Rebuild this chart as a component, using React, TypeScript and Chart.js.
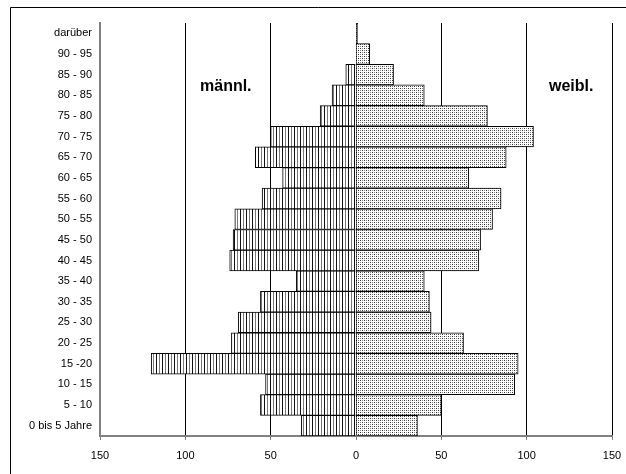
import React, { useEffect, useRef } from "react";
import { Chart, registerables } from "chart.js";

Chart.register(...registerables);

const categories = [
  "0 bis 5 Jahre", "5 - 10", "10 - 15", "15 -20", "20 - 25", "25 - 30", "30 - 35",
  "35 - 40", "40 - 45", "45 - 50", "50 - 55", "55 - 60", "60 - 65", "65 - 70",
  "70 - 75", "75 - 80", "80 - 85", "85 - 90", "90 - 95", "darüber",
];
const male = [32, 56, 53, 120, 73, 69, 56, 35, 74, 72, 71, 55, 43, 59, 50, 21, 14, 6, 0, 0];
const female = [36, 50, 93, 95, 63, 44, 43, 40, 72, 73, 80, 85, 66, 88, 104, 77, 40, 22, 8, 1];
const xTicks = [-150, -100, -50, 0, 50, 100, 150];

const FONT = "Arial, 'Liberation Sans', sans-serif";

function makePattern(kind: "stripes" | "dots"): CanvasPattern | string {
  const c = document.createElement("canvas");
  const ctx = c.getContext("2d");
  if (!ctx) return "#ccc";
  if (kind === "stripes") {
    c.width = 6; c.height = 1;
    ctx.fillStyle = "#fff"; ctx.fillRect(0, 0, 6, 1);
    ctx.fillStyle = "#111"; ctx.fillRect(0, 0, 1, 1);
    ctx.fillStyle = "#7a7a7a"; ctx.fillRect(3, 0, 1, 1);
  } else {
    c.width = 4; c.height = 4;
    ctx.fillStyle = "#fff"; ctx.fillRect(0, 0, 4, 4);
    ctx.fillStyle = "#333"; ctx.fillRect(0, 0, 1, 1);
    ctx.fillStyle = "#888"; ctx.fillRect(2, 0, 1, 1);
    ctx.fillStyle = "#888"; ctx.fillRect(0, 2, 1, 1);
    ctx.fillStyle = "#333"; ctx.fillRect(2, 2, 1, 1);
  }
  const p = ctx.createPattern(c, "repeat");
  return p || "#ccc";
}

const decorPlugin = {
  id: "decor",
  afterDraw(chart: any) {
    const ctx = chart.ctx as CanvasRenderingContext2D;
    ctx.save();
    ctx.strokeStyle = "#000";
    ctx.lineWidth = 1;
    ctx.beginPath();
    ctx.moveTo(10.5, 480);
    ctx.lineTo(10.5, 7.5);
    ctx.lineTo(640, 7.5);
    ctx.stroke();
    ctx.fillStyle = "#000";
    ctx.font = `bold 16px ${FONT}`;
    ctx.textBaseline = "alphabetic";
    ctx.textAlign = "left";
    ctx.fillText("männl.", 200, 91);
    ctx.fillText("weibl.", 549, 91);
    ctx.restore();
  },
};

export default function App() {
  const ref = useRef<HTMLCanvasElement>(null);
  useEffect(() => {
    if (!ref.current) return;
    const chart = new Chart(ref.current, {
      type: "bar",
      data: {
        labels: categories,
        datasets: [
          {
            label: "männl.",
            data: male.map((v) => -v),
            backgroundColor: makePattern("stripes") as any,
            borderColor: "#000",
            borderWidth: 1,
            barPercentage: 1,
            categoryPercentage: 1,
          },
          {
            label: "weibl.",
            data: female,
            backgroundColor: makePattern("dots") as any,
            borderColor: "#000",
            borderWidth: 1,
            barPercentage: 1,
            categoryPercentage: 1,
          },
        ],
      },
      options: {
        indexAxis: "y",
        responsive: false,
        animation: false,
        layout: { padding: { top: 23, right: 14, left: 0, bottom: 0 } },
        plugins: { legend: { display: false }, tooltip: { enabled: false } },
        scales: {
          x: {
            stacked: true,
            min: -150,
            max: 150,
            afterFit: (s: any) => { s.height = 38; s.paddingLeft = 0; s.paddingRight = 0; },
            afterBuildTicks: (s: any) => { s.ticks = xTicks.map((v) => ({ value: v })); },
            ticks: {
              callback: (v: any) => String(Math.abs(Number(v))),
              color: "#000",
              font: { family: FONT, size: 11 },
              padding: 9,
              maxRotation: 0,
            },
            grid: {
              color: (c: any) => (c.tick && c.tick.value === -150 ? "rgba(0,0,0,0)" : "#000"),
              lineWidth: 1,
              drawTicks: true,
              tickLength: 4,
              tickColor: "#808080",
            },
            border: { display: true, color: "#808080", width: 2 },
          },
          y: {
            stacked: true,
            reverse: true,
            afterFit: (s: any) => { s.width = 100; s.paddingTop = 0; s.paddingBottom = 0; },
            ticks: {
              color: "#000",
              font: { family: FONT, size: 11 },
              padding: 8,
              autoSkip: false,
            },
            grid: { display: false, drawTicks: false },
            border: { display: true, color: "#808080", width: 2 },
          },
        },
      },
      plugins: [decorPlugin],
    });
    return () => chart.destroy();
  }, []);
  return (
    <div style={{ position: "fixed", left: 0, top: 0, width: 626, height: 474, background: "#fff" }}>
      <canvas ref={ref} width={626} height={474} style={{ display: "block" }} />
    </div>
  );
}
